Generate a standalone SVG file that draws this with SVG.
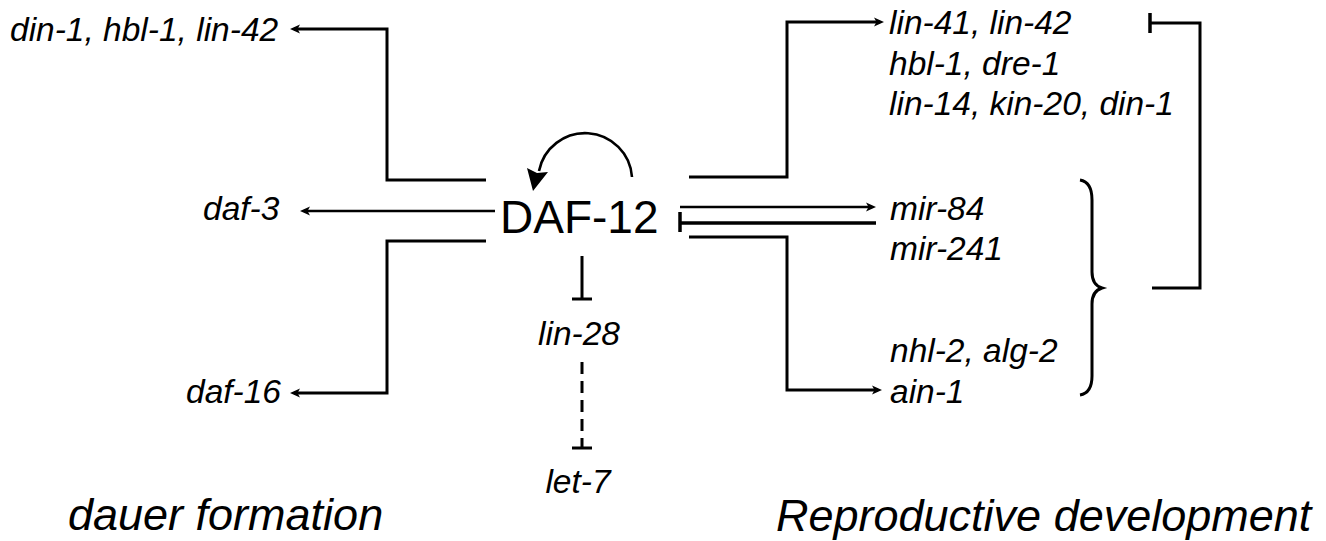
<svg xmlns="http://www.w3.org/2000/svg" width="1326" height="541" viewBox="0 0 1326 541">
<style>
.gene{font-family:"Liberation Sans",Arial,sans-serif;font-style:italic;font-size:33.5px;fill:#000}
.big{font-family:"Liberation Sans",Arial,sans-serif;font-size:46px;fill:#000}
.lbl{font-family:"Liberation Sans",Arial,sans-serif;font-style:italic;font-size:45px;fill:#000}
.ln{fill:none;stroke:#000;stroke-width:3;stroke-linejoin:miter}
.thin{fill:none;stroke:#000;stroke-width:2.6}
</style>
<defs>
<marker id="ah" markerUnits="userSpaceOnUse" markerWidth="12" markerHeight="12" viewBox="0 0 12 12" refX="7" refY="6" orient="auto">
<path d="M1,1.5 L11,6 L1,10.5 L3.5,6 Z" fill="#000"/>
</marker>
</defs>
<rect width="1326" height="541" fill="#fff"/>

<g id="connectors">
<polyline class="ln" points="486,180 387,180 387,29 294,29" marker-end="url(#ah)"/>
<line class="thin" x1="495" y1="211" x2="304" y2="211" marker-end="url(#ah)"/>
<polyline class="ln" points="486,241 387,241 387,393 294,393" marker-end="url(#ah)"/>
<line class="ln" x1="582" y1="256" x2="582" y2="299"/>
<line class="ln" x1="572" y1="299" x2="592" y2="299"/>
<line class="ln" x1="582" y1="362" x2="582" y2="448" stroke-dasharray="12 7"/>
<line class="ln" x1="572" y1="448" x2="592" y2="448"/>
<polyline class="ln" points="689,177 787,177 787,22 880,22" marker-end="url(#ah)"/>
<line class="thin" x1="680" y1="207" x2="872" y2="207" marker-end="url(#ah)"/>
<line class="ln" x1="876" y1="223" x2="680" y2="223" style="stroke-width:3.5"/>
<line class="ln" x1="680" y1="212" x2="680" y2="232" style="stroke-width:3.5"/>
<polyline class="ln" points="689,237 787,237 787,390 878,390" marker-end="url(#ah)"/>
<line class="ln" x1="1150" y1="13" x2="1150" y2="33" style="stroke-width:3.5"/>
<polyline class="ln" points="1150,23 1200,23 1200,288 1152,288"/>
<path class="ln" d="M1080,180 Q1092,182 1092,200 L1092,272 Q1092,285 1102,288 Q1092,291 1092,304 L1092,376 Q1092,393 1080,395"/>
<path class="thin" d="M632,177 A47,47 0 0 0 539,171"/>
<polygon points="527,168 537,173 548,172 533,191" fill="#000"/>
</g>

<g id="daf12"><text class="big" x="500" y="233">DAF-12</text></g>
<g id="din"><text class="gene" x="10" y="41">din-1, hbl-1, lin-42</text></g>
<g id="daf3"><text class="gene" x="203" y="220">daf-3</text></g>
<g id="daf16"><text class="gene" x="186" y="403">daf-16</text></g>
<g id="lin28"><text class="gene" x="579" y="345" text-anchor="middle">lin-28</text></g>
<g id="let7"><text class="gene" x="578" y="493" text-anchor="middle">let-7</text></g>
<g id="lin41"><text class="gene" x="889" y="34">lin-41, lin-42</text>
<text class="gene" x="889" y="75">hbl-1, dre-1</text>
<text class="gene" x="889" y="115">lin-14, kin-20, din-1</text></g>
<g id="mir"><text class="gene" x="890" y="220">mir-84</text>
<text class="gene" x="890" y="260">mir-241</text></g>
<g id="ain"><text class="gene" x="890" y="362">nhl-2, alg-2</text>
<text class="gene" x="890" y="403">ain-1</text></g>
<g id="dauer"><text class="lbl" x="68" y="530">dauer formation</text></g>
<g id="repro"><text class="lbl" x="776" y="531">Reproductive development</text></g>
</svg>
